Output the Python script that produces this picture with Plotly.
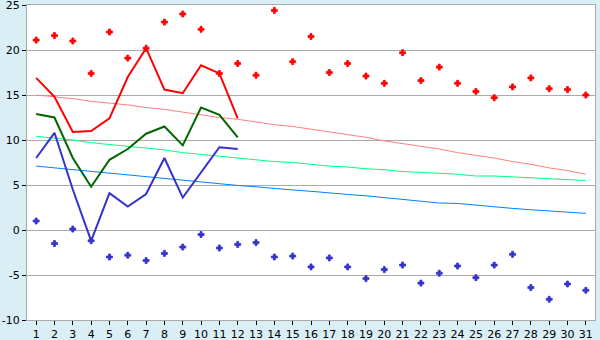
import plotly.graph_objects as go

days = list(range(1, 32))
day_labels = [str(d) for d in days]

# daily extreme points
max_points = [21.1, 21.6, 21.0, 17.4, 22.0, 19.1, 20.2, 23.1, 24.0, 22.3,
              17.4, 18.5, 17.2, 24.4, 18.7, 21.5, 17.5, 18.5, 17.1, 16.3,
              19.7, 16.6, 18.1, 16.3, 15.4, 14.7, 15.9, 16.9, 15.7, 15.6, 15.0]
min_points = [1.0, -1.5, 0.1, -1.2, -3.0, -2.8, -3.4, -2.6, -1.9, -0.5,
              -2.0, -1.6, -1.4, -3.0, -2.9, -4.1, -3.1, -4.1, -5.4, -4.4,
              -3.9, -5.9, -4.8, -4.0, -5.3, -3.9, -2.7, -6.4, -7.7, -6.0, -6.7]

# current month lines (first 12 days)
line_days = days[:12]
max_line = [16.9, 14.8, 10.9, 11.0, 12.4, 17.0, 20.2, 15.6, 15.2, 18.3, 17.4, 12.4]
mean_line = [12.9, 12.5, 8.0, 4.8, 7.8, 9.0, 10.7, 11.5, 9.4, 13.6, 12.8, 10.3]
min_line = [8.0, 10.8, 4.5, -1.2, 4.1, 2.6, 4.0, 8.0, 3.6, 6.4, 9.2, 9.0]

# normal (trend) lines
normal_max = [15.0, 14.8, 14.6, 14.3, 14.1, 13.9, 13.6, 13.4, 13.1, 12.8,
              12.5, 12.3, 12.0, 11.7, 11.5, 11.2, 10.9, 10.6, 10.3, 9.9,
              9.6, 9.3, 9.0, 8.6, 8.3, 8.0, 7.6, 7.3, 6.9, 6.6, 6.2]
normal_mean = [10.4, 10.2, 10.0, 9.7, 9.5, 9.3, 9.1, 8.9, 8.6, 8.4,
               8.2, 8.0, 7.8, 7.6, 7.5, 7.3, 7.1, 7.0, 6.8, 6.7,
               6.5, 6.4, 6.3, 6.2, 6.0, 6.0, 5.9, 5.8, 5.7, 5.6, 5.5]
normal_min = [7.1, 6.9, 6.7, 6.5, 6.3, 6.1, 5.9, 5.7, 5.5, 5.3,
              5.1, 4.95, 4.8, 4.6, 4.45, 4.3, 4.1, 3.95, 3.8, 3.6,
              3.4, 3.2, 3.0, 2.95, 2.75, 2.6, 2.4, 2.25, 2.1, 2.0, 1.85]

y_ticks = [-10, -5, 0, 5, 10, 15, 20, 25]
y_labels = ["-10", "-5", "0", "5", "10", "15", "20", "25"]

fig = go.Figure()
fig.add_trace(go.Scatter(x=days, y=normal_max, mode="lines",
                         line=dict(color="#ff8080", width=1)))
fig.add_trace(go.Scatter(x=days, y=normal_mean, mode="lines",
                         line=dict(color="#00ff80", width=1)))
fig.add_trace(go.Scatter(x=days, y=normal_min, mode="lines",
                         line=dict(color="#0080ff", width=1)))
fig.add_trace(go.Scatter(x=line_days, y=max_line, mode="lines",
                         line=dict(color="#ff0000", width=2)))
fig.add_trace(go.Scatter(x=line_days, y=mean_line, mode="lines",
                         line=dict(color="#006600", width=2)))
fig.add_trace(go.Scatter(x=line_days, y=min_line, mode="lines",
                         line=dict(color="#3333cc", width=2)))
fig.add_trace(go.Scatter(x=days, y=max_points, mode="markers",
                         marker=dict(symbol="cross", size=5, color="#ff0000",
                                     line=dict(width=0.8, color="#ff0000"))))
fig.add_trace(go.Scatter(x=days, y=min_points, mode="markers",
                         marker=dict(symbol="cross", size=5, color="#3333cc",
                                     line=dict(width=0.8, color="#3333cc"))))

fig.update_layout(
    width=600, height=340,
    margin=dict(l=27, r=5, t=5, b=20),
    paper_bgcolor="#d9eef5",
    plot_bgcolor="#ffffff",
    showlegend=False,
    font=dict(family="DejaVu Sans", size=11, color="#000000"),
)
fig.update_xaxes(
    range=[0.5, 31.5], tickmode="array", tickvals=days, ticktext=day_labels,
    ticks="outside", ticklen=4, tickcolor="#000000", showgrid=False,
    showline=True, linecolor="#aaaaaa", linewidth=1, mirror=True,
    zeroline=False, tickfont=dict(size=11), automargin=False,
)
fig.update_yaxes(
    range=[-10, 25], tickmode="array", tickvals=y_ticks, ticktext=y_labels,
    ticks="outside", ticklen=4, tickcolor="#000000",
    showgrid=True, gridcolor="#aaaaaa", gridwidth=1,
    showline=True, linecolor="#aaaaaa", linewidth=1, mirror=True,
    zeroline=False, tickfont=dict(size=11), automargin=False,
    ticklabeloverflow="allow",
)

fig.write_html("out.html")
